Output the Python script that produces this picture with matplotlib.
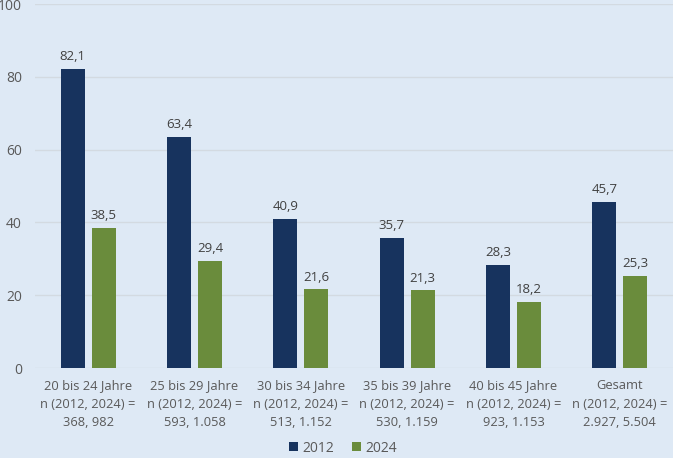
import matplotlib.pyplot as plt
import numpy as np

categories = ['20 bis 24 Jahre\nn (2012, 2024) =\n368, 982',
              '25 bis 29 Jahre\nn (2012, 2024) =\n593, 1.058',
              '30 bis 34 Jahre\nn (2012, 2024) =\n513, 1.152',
              '35 bis 39 Jahre\nn (2012, 2024) =\n530, 1.159',
              '40 bis 45 Jahre\nn (2012, 2024) =\n923, 1.153',
              'Gesamt\nn (2012, 2024) =\n2.927, 5.504']
v2012 = [82.1, 63.4, 40.9, 35.7, 28.3, 45.7]
v2024 = [38.5, 29.4, 21.6, 21.3, 18.2, 25.3]

bg = '#dee9f5'
txt = '#595959'
plt.rcParams['font.family'] = ['Open Sans', 'DejaVu Sans']

fig = plt.figure(figsize=(6.73, 4.58), dpi=100, facecolor=bg)
ax = fig.add_axes([0.052, 0.1965, 0.948, 0.7945])
ax.set_facecolor(bg)

x = np.arange(len(categories))
w = 0.225
off = 0.146
b1 = ax.bar(x - off, v2012, w, color='#17335e', label='2012', zorder=3)
b2 = ax.bar(x + off, v2024, w, color='#6a8c3c', label='2024', zorder=3)

for bars, vals in ((b1, v2012), (b2, v2024)):
    for b, v in zip(bars, vals):
        ax.text(b.get_x() + b.get_width() / 2, v + 1.6, f'{v:.1f}'.replace('.', ','),
                ha='center', va='bottom', fontsize=9.5, color='#404040')

ax.set_xlim(-0.5, len(categories) - 0.5)
ax.set_ylim(0, 100)
ax.set_yticks(range(0, 101, 20))
ax.set_xticks(x)
ax.set_xticklabels(categories, fontsize=9.3, color=txt, linespacing=1.55)
ax.tick_params(axis='y', labelsize=10, labelcolor=txt, length=0, pad=9.5)
ax.tick_params(axis='x', length=0, pad=8)
ax.grid(axis='y', color='#d3dae1', linewidth=1, zorder=0)
for s in ax.spines.values():
    s.set_visible(False)

fig.legend(loc='lower center', bbox_to_anchor=(0.51, -0.022), ncol=2, frameon=False,
           fontsize=10, labelcolor=txt, handlelength=0.65, handleheight=0.65,
           handletextpad=0.3, columnspacing=1.3)

plt.savefig('out.png', dpi=100, facecolor=bg)
